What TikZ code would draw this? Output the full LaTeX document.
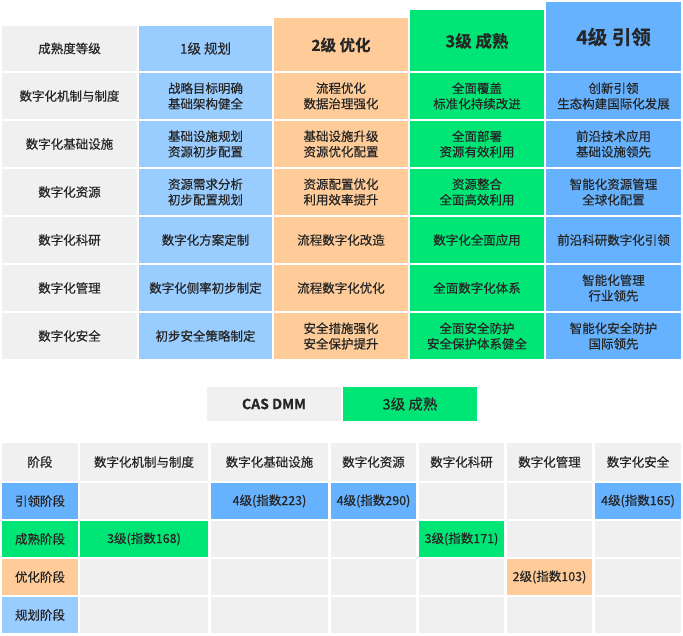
\documentclass[tikz,border=0pt]{standalone}
\usepackage{fontspec}
\setmainfont{Noto Sans CJK SC}[FakeBold=0.4,BoldFont={Noto Sans CJK SC Bold}]
\definecolor{cg}{HTML}{F0F0F0}
\definecolor{cl}{HTML}{99CCFF}
\definecolor{cp}{HTML}{FFCC99}
\definecolor{cn}{HTML}{00E676}
\definecolor{cb}{HTML}{66B2FF}
\begin{document}
\begin{tikzpicture}[x=1pt,y=-1pt,
  t/.style={font=\fontsize{12.5}{15.5}\selectfont,align=center,text=black!85}]
\useasboundingbox (0,0) rectangle (683,635);
\fill[cg] (2,26) rectangle (137,71); \node[t] (h0) at (69.5,48.5) {成熟度等级};
\fill[cl] (139,26) rectangle (272,71); \node[t,font=\fontsize{13.5}{15}\selectfont] (h1) at (205.5,48.5) {1级 规划};
\fill[cp] (274,18) rectangle (408,71); \node[t,font=\fontsize{15.5}{17}\selectfont\bfseries] (h2) at (341,45) {2级 优化};
\fill[cn] (410,10) rectangle (544,71); \node[t,font=\fontsize{16.5}{18}\selectfont\bfseries] (h3) at (477,41) {3级 成熟};
\fill[cb] (546,2) rectangle (681,71); \node[t,font=\fontsize{19.5}{21}\selectfont\bfseries] (h4) at (613.5,37) {4级 引领};
\foreach \r/\a/\b/\c/\d/\e in {
 0/数字化机制与制度/战略目标明确\\基础架构健全/流程优化\\数据治理强化/全面覆盖\\标准化持续改进/创新引领\\生态构建国际化发展,
 1/数字化基础设施/基础设施规划\\资源初步配置/基础设施升级\\资源优化配置/全面部署\\资源有效利用/前沿技术应用\\基础设施领先,
 2/数字化资源/资源需求分析\\初步配置规划/资源配置优化\\利用效率提升/资源整合\\全面高效利用/智能化资源管理\\全球化配置,
 3/数字化科研/数字化方案定制/流程数字化改造/数字化全面应用/前沿科研数字化引领,
 4/数字化管理/数字化侧率初步制定/流程数字化优化/全面数字化体系/智能化管理\\行业领先,
 5/数字化安全/初步安全策略制定/安全措施强化\\安全保护提升/全面安全防护\\安全保护体系健全/智能化安全防护\\国际领先}{
 \pgfmathsetmacro\ya{73+48*\r}\pgfmathsetmacro\yb{\ya+46}\pgfmathsetmacro\ym{\ya+23}
 \fill[cg] (2,\ya) rectangle (137,\yb); \node[t] (r\r a) at (69.5,\ym) {\a};
 \fill[cl] (139,\ya) rectangle (272,\yb); \node[t] (r\r b) at (205.5,\ym) {\b};
 \fill[cp] (274,\ya) rectangle (408,\yb); \node[t] (r\r c) at (341,\ym) {\c};
 \fill[cn] (410,\ya) rectangle (544,\yb); \node[t] (r\r d) at (477,\ym) {\d};
 \fill[cb] (546,\ya) rectangle (681,\yb); \node[t] (r\r e) at (613.5,\ym) {\e};
}
\fill[cg] (207,387) rectangle (341,421); \node[t,font=\fontsize{14}{15}\selectfont\bfseries] (lg1) at (274,404) {CAS DMM};
\fill[cn] (343,387) rectangle (477,421); \node[t,font=\fontsize{14.5}{15}\selectfont] (lg2) at (410,404) {3级 成熟};
\def\cols{2/78,80/208,211/328,331/416,419/504,507/592,595/681}
\foreach \ya/\yb [count=\r] in {443/481,483/519,521/557,559/595,597/633}{
  \foreach \xa/\xb [count=\c] in \cols{
    \fill[cg] (\xa,\ya) rectangle (\xb,\yb);
    \coordinate (b\r-\c) at ({(\xa+\xb)/2},{(\ya+\yb)/2});
  }}
\foreach \c/\s in {1/阶段,2/数字化机制与制度,3/数字化基础设施,4/数字化资源,5/数字化科研,6/数字化管理,7/数字化安全}
  \node[t] (bh\c) at (b1-\c) {\s};
\fill[cb] (2,483) rectangle (78,519); \node[t] (s1) at (b2-1) {引领阶段};
\fill[cn] (2,521) rectangle (78,557); \node[t] (s2) at (b3-1) {成熟阶段};
\fill[cp] (2,559) rectangle (78,595); \node[t] (s3) at (b4-1) {优化阶段};
\fill[cl] (2,597) rectangle (78,633); \node[t] (s4) at (b5-1) {规划阶段};
\fill[cb] (211,483) rectangle (328,519); \node[t] (v1) at (b2-3) {4级(指数223)};
\fill[cb] (331,483) rectangle (416,519); \node[t] (v2) at (b2-4) {4级(指数290)};
\fill[cb] (595,483) rectangle (681,519); \node[t] (v3) at (b2-7) {4级(指数165)};
\fill[cn] (80,521) rectangle (208,557); \node[t] (v4) at (b3-2) {3级(指数168)};
\fill[cn] (419,521) rectangle (504,557); \node[t] (v5) at (b3-5) {3级(指数171)};
\fill[cp] (507,559) rectangle (592,595); \node[t] (v6) at (b4-6) {2级(指数103)};
\end{tikzpicture}
\end{document}
